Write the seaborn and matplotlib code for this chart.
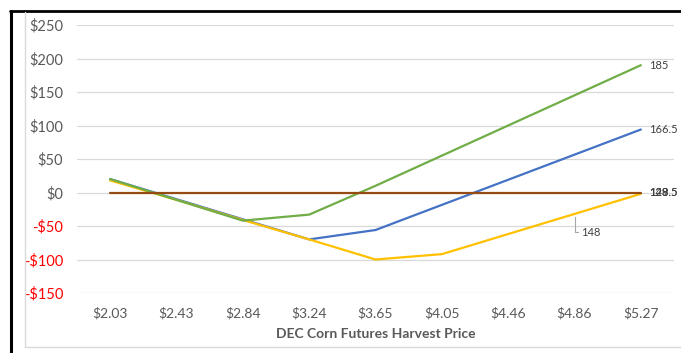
import matplotlib
matplotlib.use("Agg")
import matplotlib.pyplot as plt
from matplotlib.lines import Line2D
import seaborn as sns
import pandas as pd

# Harvest price scenarios (category axis)
prices = ["$2.03", "$2.43", "$2.84", "$3.24", "$3.65", "$4.05", "$4.46", "$4.86", "$5.27"]

# Net outcome per acre for each strategy
blue_vals = [20, -10, -40, -70, -56, -18.5, 19, 56.5, 94]
yellow_vals = [18, -11, -41, -70, -100, -92, -62, -32, -2]
green_vals = [20, -11, -42, -33, 10, 55, 100, 145, 190]
brown_vals = [0, 0, 0, 0, 0, 0, 0, 0, 0]

series_names = ["blue", "yellow", "green", "brown"]
series_colors = ["#4472C4", "#FFC000", "#70AD47", "#964B12"]

rows = []
for name, vals in zip(series_names, [blue_vals, yellow_vals, green_vals, brown_vals]):
    for i, v in enumerate(vals):
        rows.append({"pos": i, "value": v, "series": name})
df = pd.DataFrame(rows)

sns.set_theme(style="white")
plt.rcParams["font.family"] = ["Lato", "DejaVu Sans"]

fig = plt.figure(figsize=(6.81, 3.53), dpi=100)
ax = fig.add_axes([77 / 681, 1 - 293 / 353, (674 - 77) / 681, (293 - 25) / 353])

sns.lineplot(data=df, x="pos", y="value", hue="series", hue_order=series_names,
             palette=series_colors, linewidth=1.6, legend=False, ax=ax, sort=False)

ax.set_xlim(-0.5, 8.5)
ax.set_ylim(-150, 250)
ax.set_yticks(range(-150, 251, 50))
ax.yaxis.grid(True, color="#d9d9d9", linewidth=0.9)
ax.set_axisbelow(True)
for s in ax.spines.values():
    s.set_visible(False)

ax.set_xticks(range(len(prices)))
ax.set_xticklabels(prices, fontsize=10, color="#595959")
ax.tick_params(axis="x", length=0, pad=10)
ax.tick_params(axis="y", length=0, pad=10)

ylabels = []
for t in range(-150, 251, 50):
    ylabels.append(f"-${abs(t)}" if t < 0 else f"${t}")
ax.set_yticklabels(ylabels, fontsize=10.5)
for lab, t in zip(ax.get_yticklabels(), range(-150, 251, 50)):
    lab.set_color("#FF0000" if t < 0 else "#595959")

ax.set_xlabel("DEC Corn Futures Harvest Price", fontsize=10, fontweight="bold",
              color="#595959", labelpad=6)
ax.set_ylabel("")

# End-of-line labels
last = len(prices) - 1
lab_kw = dict(fontsize=8, color="#404040", va="center", ha="left")
ax.text(last + 0.12, green_vals[-1], "185", **lab_kw)
ax.text(last + 0.12, blue_vals[-1], "166.5", **lab_kw)
ax.text(last + 0.12, brown_vals[-1], "123.5", **lab_kw)
ax.text(last + 0.12, brown_vals[-1], "148", **lab_kw)
ax.text(last + 0.12, brown_vals[-1], "129.5", **lab_kw)

# Callout label for the yellow series with an elbow leader line
ax.plot([7, 7, 7.06], [yellow_vals[7] - 4, -59, -59], color="#a6a6a6", lw=0.8)
ax.text(7.1, -59, "148", **lab_kw)

# Chart frame
fig.add_artist(Line2D([10 / 681, 1], [1 - 11 / 353, 1 - 11 / 353], color="black", lw=2))
fig.add_artist(Line2D([11 / 681, 11 / 681], [0, 1 - 11 / 353], color="black", lw=2.2))
fig.add_artist(Line2D([25 / 681, 25 / 681], [1 - 347 / 353, 1 - 12 / 353], color="#d9d9d9", lw=1))
fig.add_artist(Line2D([25 / 681, 1], [1 - 347 / 353, 1 - 347 / 353], color="#d9d9d9", lw=1))

fig.savefig("out.png", dpi=100)
